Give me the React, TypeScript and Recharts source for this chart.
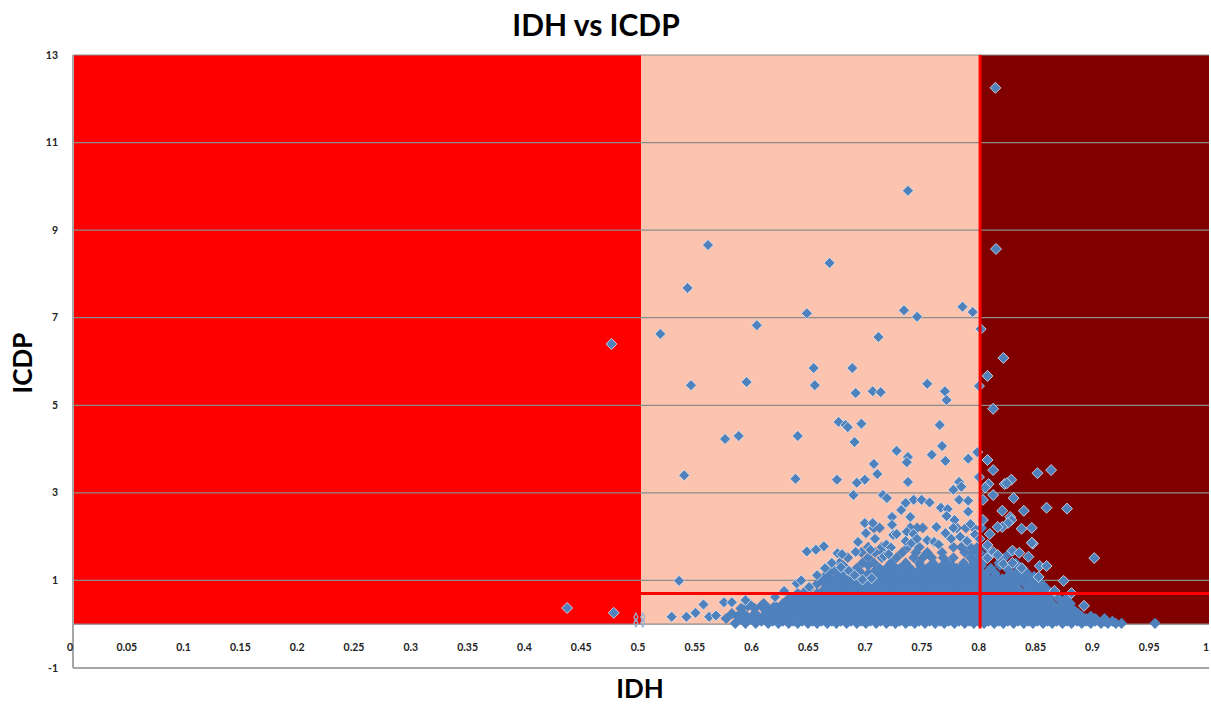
import React from "react";
import { ScatterChart, Scatter, XAxis, YAxis, ReferenceArea, ReferenceLine } from "recharts";

const xTicks = [0,0.05,0.1,0.15,0.2,0.25,0.3,0.35,0.4,0.45,0.5,0.55,0.6,0.65,0.7,0.75,0.8,0.85,0.9,0.95,1];
const yTicks = [-1,1,3,5,7,9,11,13];
const gridValues = [0,1,3,5,7,9,11,13];

const outliers: [number,number][] = [
[.812,12.25],[.735,9.9],[.8125,8.57],[.559,8.66],[.666,8.25],[.541,7.68],[.517,6.63],[.474,6.4],[.602,6.83],[.646,7.1],[.7315,7.17],[.743,7.02],[.783,7.25],[.792,7.13],[.799,6.74],[.709,6.56],[.819,6.08],[.805,5.67],[.7975,5.44],[.81,4.92],[.652,5.85],[.653,5.46],[.686,5.85],[.689,5.28],[.544,5.46],[.593,5.53],[.704,5.32],[.711,5.3],[.752,5.49],[.7675,5.32],[.769,5.12],[.674,4.62],[.68,4.55],[.682,4.5],[.694,4.58],[.688,4.16],[.763,4.55],[.574,4.23],[.586,4.3],[.638,4.3],[.765,4.07],[.725,3.96],[.735,3.82],[.734,3.7],[.705,3.66],[.768,3.73],[.756,3.87],[.788,3.78],[.796,3.93],[.805,3.75],[.81,3.52],[.849,3.45],[.861,3.52],[.538,3.4],[.636,3.32],[.6725,3.3],[.708,3.43],[.697,3.3],[.69,3.23],[.735,3.25],[.7975,3.36],[.826,3.3],[.82,3.2],[.822,3.22],
[.713,2.95],[.7165,2.88],[.687,2.95],[.74,2.84],[.747,2.84],[.754,2.78],[.733,2.77],[.729,2.61],[.764,2.66],[.77,2.63],[.78,2.84],[.788,2.82],[.788,2.57],[.775,3.07],[.78,3.25],[.782,3.14],[.721,2.45],[.737,2.45],[.769,2.47],[.776,2.38],[.79,2.29],[.697,2.31],[.704,2.31],[.721,2.27],[.76,2.22],[.775,2.2],[.698,2.08],[.722,2.04],[.725,2.06],[.734,2.11],[.74,2.06],[.768,2.08],
[.806,3.2],[.803,3.12],[.81,2.95],[.828,2.88],[.801,2.84],[.818,2.59],[.837,2.59],[.857,2.66],[.875,2.64],[.801,2.38],[.825,2.45],[.826,2.38],[.823,2.31],[.818,2.22],[.814,2.22],[.835,2.18],[.844,2.2],[.807,2.06],[.845,1.84],[.844,1.86],[.805,1.81],[.81,1.65],[.814,1.58],[.827,1.68],[.833,1.63],[.841,1.54],[.805,1.51],[.899,1.51],[.851,1.33],[.857,1.33],[.819,1.38],[.827,1.4],[.835,1.28],[.85,1.08],[.872,.99],[.864,.76],[.879,.71],[.89,.42],
[.435,.37],[.476,.26],[.5335,.99],[.527,.17],[.54,.17],[.548,.26],[.555,.45],[.56,.17],[.573,.5],[.58,.5],[.592,.55],[.566,.2],
[.646,1.66],[.654,1.7],[.661,1.78],[.673,1.62],[.677,1.6],[.691,1.88],[.689,1.65],[.706,1.95],[.702,1.7],[.714,1.55],[.716,1.82],[.72,1.75],[.718,1.6],[.733,1.9],[.738,1.85],[.743,1.95],[.752,1.92],[.758,1.88],[.762,1.82],[.773,1.95],[.781,2.0],[.787,1.9],[.794,2.05],[.798,1.95],
[.637,.93],[.626,.76],[.641,1.0],[.618,.62],[.648,.85],[.655,1.12],[.662,1.28],[.668,1.4],[.676,1.3],[.683,1.22],[.688,1.12],[.695,1.02],[.703,1.05],
];

const edgeMarks: [number,number][] = [[.4955,.16],[.4955,.03],[.5015,.16],[.5015,.03]];

const row00 = [.583,.592,.601,.612,.621,.63,.638,.647,.655,.664,.672,.681,.69,.698,.707,.716,.724,.733,.741,.75,.759,.767,.776,.785,.793,.802,.811,.819,.828,.837,.845,.854,.862,.871,.879,.888,.896,.905,.911,.918,.923,.9525];
const row01 = [.575,.588,.597,.607,.617,.626,.634,.643,.651,.66,.668,.677,.685,.694,.703,.711,.72,.728,.737,.746,.754,.763,.772,.78,.789,.798,.806,.815,.823,.832,.841,.849,.858,.866,.875,.883,.892,.9,.908];
const row02 = [.58,.59,.6,.61,.62,.629,.638,.647,.656,.664,.673,.681,.69,.699,.707,.716,.724,.733,.742,.75,.759,.767,.776,.785,.793,.802,.81,.819,.828,.836,.845,.853,.862,.87,.878,.885];
const row03 = [.588,.6,.612,.622,.632,.641,.65,.659,.668,.677,.685,.694,.703,.711,.72,.728,.737,.746,.754,.763,.772,.78,.789,.798,.806,.815,.823,.832,.841,.849,.858,.866,.874,.878];
const row04 = [.595,.608,.625,.637,.646,.655,.664,.673,.681,.69,.699,.707,.716,.724,.733,.742,.75,.759,.767,.776,.785,.793,.802,.81,.819,.828,.836,.845,.853,.862,.872,.878];
const row05 = [.63,.642,.651,.66,.668,.677,.685,.694,.703,.711,.72,.728,.737,.746,.754,.763,.772,.78,.789,.798,.806,.815,.823,.832,.841,.852,.868,.874];
const row06 = [.638,.655,.664,.673,.681,.69,.699,.707,.716,.724,.733,.742,.75,.759,.767,.776,.785,.793,.802,.81,.819,.828,.836,.845,.855,.863];
const row07 = [.648,.662,.668,.677,.685,.694,.703,.711,.72,.728,.737,.746,.754,.763,.772,.78,.789,.798,.806,.815,.823,.832,.842,.85,.857];

const fill00 = [.6,.606,.616,.625,.634,.642,.651,.659,.668,.676,.685,.694,.702,.711,.72,.728,.737,.745,.754,.763,.771,.78,.789,.797,.806,.815,.823,.832,.841,.849,.858,.866,.875,.884,.892,.9,.908,.915];
const fill01 = [.585,.593,.603,.613,.622,.631,.639,.647,.656,.664,.673,.681,.69,.698,.707,.716,.724,.733,.741,.75,.759,.767,.776,.785,.793,.802,.811,.819,.828,.837,.845,.854,.862,.871,.879,.888,.896];
const fill02 = [.61,.617,.625,.634,.642,.651,.66,.668,.677,.685,.694,.703,.711,.72,.728,.737,.746,.754,.763,.772,.78,.789,.798,.806,.815,.823,.832,.841,.849,.858,.866,.875,.882];
const fill03 = [.594,.606,.618,.628,.637,.646,.655,.664,.673,.681,.69,.699,.707,.716,.724,.733,.742,.75,.759,.767,.776,.785,.793,.802,.81,.819,.828,.836,.845,.853,.862,.87];
const fill04 = [.632,.642,.651,.66,.668,.677,.685,.694,.703,.711,.72,.728,.737,.746,.754,.763,.772,.78,.789,.798,.806,.815,.823,.832,.841,.849,.858];
const fill05 = [.636,.647,.655,.664,.673,.681,.69,.699,.707,.716,.724,.733,.742,.75,.759,.767,.776,.785,.793,.802,.81,.819,.828,.836,.846,.86];
const fill06 = [.645,.66,.668,.677,.685,.694,.703,.711,.72,.728,.737,.746,.754,.763,.772,.78,.789,.798,.806,.815,.823,.832,.84,.848];

const mid08 = [.655,.664,.673,.681,.69,.699,.707,.716,.724,.733,.742,.75,.759,.767,.776,.785,.793,.802,.81,.819,.828,.838,.845,.853];
const mid08b = [.66,.668,.677,.686,.695,.703,.712,.72,.729,.737,.746,.755,.763,.772,.78,.789,.797,.806,.815,.823,.833,.842,.848];
const mid09 = [.66,.672,.683,.691,.702,.71,.719,.728,.737,.746,.754,.763,.772,.78,.789,.798,.806,.818,.828,.843,.849];
const mid09b = [.665,.677,.696,.706,.714,.723,.732,.741,.75,.758,.767,.776,.785,.793,.802,.812,.823,.836,.846];
const mid10 = [.664,.676,.7,.711,.72,.731,.74,.748,.757,.765,.774,.783,.792,.801,.812,.83,.84];
const mid10b = [.67,.692,.706,.716,.726,.735,.744,.753,.761,.77,.779,.788,.796,.806,.824,.838];
const mid11 = [.668,.69,.71,.716,.728,.737,.752,.761,.769,.778,.787,.796,.808,.822,.836];
const mid11b = [.678,.7,.722,.733,.746,.756,.765,.774,.783,.792,.8,.816,.83];
const mid12 = [.675,.695,.705,.72,.733,.745,.757,.77,.784,.793,.8,.815,.83];
const mid13 = [.682,.7,.712,.725,.74,.748,.756,.766,.775,.79,.797,.803,.82];
const mid14 = [.694,.706,.713,.73,.742,.752,.765,.785,.792,.798,.808,.825];
const mid15 = [.7,.712,.735,.745,.775,.782,.79,.796,.804];
const mid16 = [.705,.71,.737,.743,.748,.778,.786,.793,.8];

const midRows: [number, number[]][] = [[.92,mid08],[.98,mid08b],[1.04,mid09],[1.1,mid09b],[1.16,mid10],[1.22,mid10b],[1.28,mid11],[1.34,mid11b],[1.4,mid12],[1.52,mid13],[1.64,mid14],[1.76,mid15],[2.2,mid16]];
const baseRows: [number, number[]][] = [[.02,row00],[.07,fill00],[.13,row01],[.18,fill01],[.24,row02],[.3,fill02],[.36,row03],[.42,fill03],[.47,row04],[.53,fill04],[.58,row05],[.64,fill05],[.7,row06],[.76,fill06],[.81,row07]];

const baseData = baseRows.flatMap(([y, xs]) => xs.map((x) => ({ x, y })));
const midData = midRows.flatMap(([y, xs]) => xs.map((x) => ({ x, y })));
const outlierData = outliers.map(([x, y]) => ({ x, y }));
const edgeData = edgeMarks.map(([x, y]) => ({ x, y }));

const BLUE = "#4f81bd";
const diamond = (r: number, stroke: string, sw: number) => (p: any) => (
  <path d={`M${p.cx},${p.cy - r}L${p.cx + r},${p.cy}L${p.cx},${p.cy + r}L${p.cx - r},${p.cy}Z`} fill={BLUE} stroke={stroke} strokeWidth={sw} />
);
const thinMark = (p: any) => (
  <path d={`M${p.cx},${p.cy - 4}L${p.cx + 2},${p.cy}L${p.cx},${p.cy + 4}L${p.cx - 2},${p.cy}Z`} fill="none" stroke="#8fb0d3" strokeWidth={1.2} />
);

const fontFamily = "Lato, sans-serif";
const XTick = (p: any) => (
  <text x={p.x - 3} y={p.y - 19} textAnchor="middle" fontFamily={fontFamily} fontWeight={700} fontSize={10.5} fill="#222">{p.payload.value}</text>
);
const YTick = (p: any) => (
  <text x={p.x} y={p.y + 3.5} textAnchor="end" fontFamily={fontFamily} fontWeight={700} fontSize={10.5} fill="#222">{p.payload.value}</text>
);

export default function App() {
  return (
    <div style={{ position: "absolute", left: 0, top: 0, width: 1211, height: 704 }}>
      <div style={{ position: "absolute", left: 0, width: 1192, top: 4, textAlign: "center", fontFamily, fontWeight: 700, fontSize: 30, lineHeight: "40px", color: "#000" }}>IDH vs ICDP</div>
      <ScatterChart width={1211} height={704} margin={{ top: 55, right: 2, bottom: 0, left: 0 }}>
        <XAxis type="number" dataKey="x" domain={[0, 1]} ticks={xTicks} interval={0} height={36} tickLine={false} tickSize={0} stroke="#a6a6a6" strokeWidth={2} tick={<XTick />}
          label={{ value: "IDH", position: "insideBottom", dx: -1, dy: -1, fontFamily, fontWeight: 700, fontSize: 26, fill: "#000" }} />
        <YAxis type="number" dataKey="y" domain={[-1, 13]} ticks={yTicks} interval={0} width={73} tickLine={false} tickSize={0} tickMargin={15} stroke="#a6a6a6" strokeWidth={2} tick={<YTick />}
          label={{ value: "ICDP", angle: -90, position: "insideLeft", dx: 18, dy: 32, fontFamily, fontWeight: 700, fontSize: 26, fill: "#000" }} />
        <ReferenceArea x1={0} x2={0.5} y1={0} y2={13} fill="#ff0000" fillOpacity={1} stroke="none" zIndex={10} />
        <ReferenceArea x1={0.5} x2={0.7985} y1={0} y2={13} fill="#fcc3ae" fillOpacity={1} stroke="none" zIndex={10} />
        <ReferenceArea x1={0.7985} x2={1} y1={0} y2={13} fill="#800000" fillOpacity={1} stroke="none" zIndex={10} />
        {gridValues.map((v) => (
          <ReferenceLine key={v} y={v} stroke="#8c8c8c" strokeWidth={1.2} zIndex={20} />
        ))}
        <Scatter data={baseData} isAnimationActive={false} shape={diamond(5.6, "none", 0)} zIndex={30} />
        <Scatter data={midData} isAnimationActive={false} shape={diamond(5.4, "none", 0)} zIndex={31} />
        <Scatter data={outlierData} isAnimationActive={false} shape={diamond(5.5, "#dfe8f2", 0.8)} zIndex={32} />
        <Scatter data={edgeData} isAnimationActive={false} shape={thinMark} zIndex={33} />
        <ReferenceLine segment={[{ x: 0.7985, y: -0.1 }, { x: 0.7985, y: 13 }]} stroke="#ff0000" strokeWidth={3} zIndex={40} />
        <ReferenceLine segment={[{ x: 0, y: 0.7 }, { x: 1, y: 0.7 }]} stroke="#ff0000" strokeWidth={3} zIndex={40} />
      </ScatterChart>
    </div>
  );
}
